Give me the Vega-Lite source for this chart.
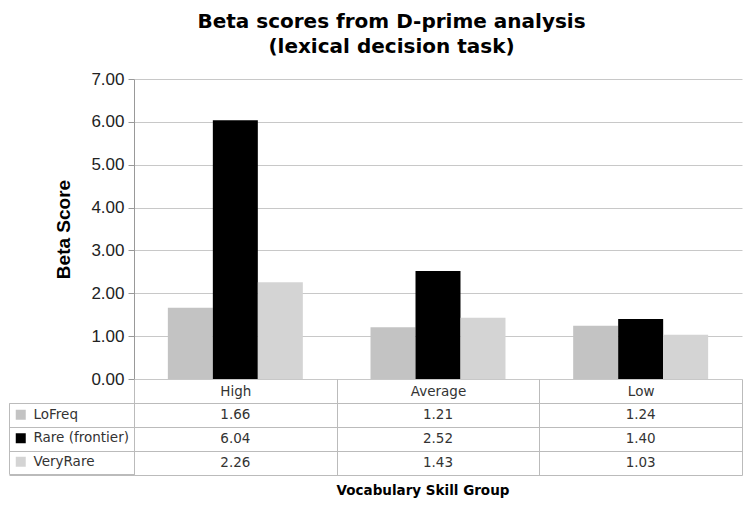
{
  "$schema": "https://vega.github.io/schema/vega-lite/v6.json",
  "padding": {"left": 8, "top": 12, "right": 8, "bottom": 5},
  "background": "white",
  "bounds": "flush",
  "spacing": 24,
  "title": {
    "text": ["Beta scores from D-prime analysis", "(lexical decision task)"],
    "font": "DejaVu Sans",
    "fontSize": 20,
    "fontWeight": "bold",
    "lineHeight": 25,
    "color": "#000",
    "anchor": "middle",
    "offset": 13,
    "dx": 16
  },
  "config": {
    "view": {"stroke": null},
    "font": "DejaVu Sans"
  },
  "data": {
    "values": [
      {"group": "High", "series": "LoFreq", "value": 1.66},
      {"group": "High", "series": "Rare (frontier)", "value": 6.04},
      {"group": "High", "series": "VeryRare", "value": 2.26},
      {"group": "Average", "series": "LoFreq", "value": 1.21},
      {"group": "Average", "series": "Rare (frontier)", "value": 2.52},
      {"group": "Average", "series": "VeryRare", "value": 1.43},
      {"group": "Low", "series": "LoFreq", "value": 1.24},
      {"group": "Low", "series": "Rare (frontier)", "value": 1.40},
      {"group": "Low", "series": "VeryRare", "value": 1.03}
    ]
  },
  "resolve": {"scale": {"color": "independent", "x": "independent", "y": "independent"}, "legend": {"color": "independent"}},
  "vconcat": [
    {
      "width": 608,
      "height": 300,
      "mark": {"type": "bar"},
      "encoding": {
        "x": {
          "field": "group", "type": "nominal", "sort": ["High", "Average", "Low"],
          "scale": {"paddingInner": 0.334, "paddingOuter": 0.167},
          "axis": null
        },
        "xOffset": {"field": "series", "type": "nominal", "sort": ["LoFreq", "Rare (frontier)", "VeryRare"]},
        "y": {
          "field": "value", "type": "quantitative",
          "scale": {"domain": [0, 7]},
          "axis": {
            "title": "Beta Score",
            "titleFont": "Liberation Sans",
            "titleFontSize": 19,
            "titleFontWeight": "bold",
            "titleColor": "#000",
            "titlePadding": 17,
            "values": [0, 1, 2, 3, 4, 5, 6, 7],
            "format": ".2f",
            "labelFont": "Liberation Sans",
            "labelFontSize": 17,
            "labelColor": "#222",
            "labelPadding": 4,
            "tickSize": 6,
            "tickColor": "#999",
            "domainColor": "#999",
            "gridColor": "#c8c8c8",
            "grid": true
          }
        },
        "color": {
          "field": "series", "type": "nominal",
          "scale": {"domain": ["LoFreq", "Rare (frontier)", "VeryRare"], "range": ["#c3c3c3", "#000000", "#d4d4d4"]},
          "legend": null
        }
      }
    },
    {
      "width": 608,
      "height": 72,
      "title": {
        "text": "Vocabulary Skill Group",
        "orient": "bottom",
        "anchor": "middle",
        "font": "DejaVu Sans",
        "fontSize": 13.5,
        "fontWeight": "bold",
        "color": "#000",
        "offset": 8,
        "dx": -15
      },
      "encoding": {
        "x": {
          "field": "group", "type": "nominal", "sort": ["High", "Average", "Low"],
          "scale": {"paddingInner": 0, "paddingOuter": 0},
          "axis": {
            "orient": "top",
            "title": null,
            "labelAngle": 0,
            "tickBand": "extent",
            "tickSize": 24,
            "tickColor": "#bbb",
            "labelPadding": -12,
            "labelBaseline": "middle",
            "labelFont": "DejaVu Sans",
            "labelFontSize": 13.5,
            "labelColor": "#333",
            "domainColor": "#bbb",
            "grid": true,
            "gridColor": "#bbb"
          }
        },
        "y": {
          "field": "series", "type": "nominal", "sort": ["LoFreq", "Rare (frontier)", "VeryRare"],
          "scale": {"paddingInner": 0, "paddingOuter": 0},
          "axis": {
            "title": null,
            "labels": false,
            "tickBand": "extent",
            "tickSize": 125,
            "tickColor": "#bbb",
            "domainColor": "#bbb",
            "grid": true,
            "gridColor": "#bbb"
          }
        }
      },
      "layer": [
        {
          "mark": {"type": "text", "font": "DejaVu Sans", "fontSize": 13.5, "color": "#333"},
          "encoding": {
            "text": {"field": "value", "type": "quantitative", "format": ".2f"}
          }
        },
        {
          "mark": {"type": "square", "opacity": 0},
          "encoding": {
            "color": {
              "field": "series", "type": "nominal",
              "scale": {"domain": ["LoFreq", "Rare (frontier)", "VeryRare"], "range": ["#c3c3c3", "#000000", "#d4d4d4"]},
              "legend": {
                "title": null,
                "orient": "none",
                "legendX": -125,
                "legendY": 0,
                "padding": 5,
                "rowPadding": 8.5,
                "symbolType": "square",
                "symbolSize": 100,
                "symbolOpacity": 1,
                "symbolStrokeWidth": 0,
                "labelFont": "DejaVu Sans",
                "labelFontSize": 13.5,
                "labelColor": "#333",
                "labelOffset": 6,
                "strokeColor": "#bbb"
              }
            }
          }
        }
      ]
    }
  ]
}
